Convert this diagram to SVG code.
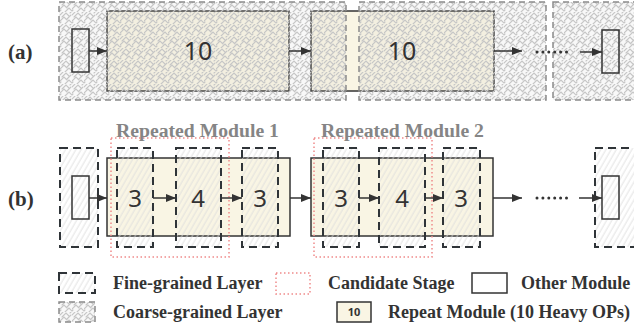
<svg xmlns="http://www.w3.org/2000/svg" width="634" height="329" viewBox="0 0 634 329">
<style>
.mod{fill:#f9f5e4;stroke:#333;stroke-width:1.5}
.sm{fill:none;stroke:#333;stroke-width:1.5}
.coarse{fill:url(#coarse);stroke:#8a8a8a;stroke-width:1.5;stroke-dasharray:6 4}
.fine{fill:url(#fine);stroke:#2f3438;stroke-width:2;stroke-dasharray:8 5}
.cand{fill:none;stroke:#f08a8a;stroke-width:1.5;stroke-dasharray:1.5 2.5}
.num{font-family:"Noto Sans","Open Sans",sans-serif;fill:#333;text-anchor:middle}
.lbl{font-family:"Liberation Serif","Times New Roman",serif;font-weight:bold;fill:#333}
.rep{font-family:"Liberation Serif","Times New Roman",serif;font-weight:bold;fill:#858585;font-size:19.7px}
.arr{stroke:#333;stroke-width:1.5;fill:none;marker-end:url(#ah)}
.dots{stroke:#333;stroke-width:3;stroke-linecap:round;stroke-dasharray:0 5.9}
</style>
<defs>
<marker id="ah" viewBox="0 0 10 8" refX="10" refY="4" markerWidth="10" markerHeight="8" markerUnits="userSpaceOnUse" orient="auto">
<path d="M0,0 L10,4 L0,8 Z" fill="#333"/>
</marker>
<pattern id="coarse" width="12" height="12" patternUnits="userSpaceOnUse">
<rect width="12" height="12" fill="#c4c4c4" fill-opacity="0.12"/>
<path d="M0,3 L3,0 M2,5 L6,1 L9,4 M7,7 L11,3 M0,9 L4,5 L7,8 M5,12 L9,8 L12,11 M10,1 L12,-1 M-1,12 L1,10" stroke="#c6c6c6" stroke-width="1.1" fill="none" stroke-linecap="round"/>
</pattern>
<pattern id="fine" width="4.5" height="4.5" patternUnits="userSpaceOnUse" patternTransform="rotate(30)">
<line x1="1" y1="0" x2="1" y2="4.5" stroke="#dcdcdc" stroke-width="0.8"/>
</pattern>
</defs>

<g id="labels">
<text class="lbl" x="8" y="59" font-size="21">(a)</text>
<text class="lbl" x="8" y="206" font-size="21">(b)</text>
</g>

<!-- Row (a) -->
<g id="a-module1"><rect class="mod" x="107" y="11" width="182" height="80"/></g>
<g id="a-module2"><rect class="mod" x="311" y="11" width="183" height="80"/></g>
<g id="a-coarse1"><rect class="coarse" x="59" y="2" width="287" height="98"/></g>
<g id="a-coarse2"><rect class="coarse" x="359" y="2" width="187" height="98"/></g>
<g id="a-coarse3"><rect class="coarse" x="553" y="2" width="90" height="98"/></g>
<g id="a-in"><rect class="sm" x="72" y="29" width="17" height="43"/></g>
<g id="a-out"><rect class="sm" x="602" y="30" width="17" height="43"/></g>
<text class="num" x="198" y="60" font-size="25">10</text>
<text class="num" x="402" y="60" font-size="25">10</text>

<!-- Row (b) -->
<g id="b-module1"><rect class="mod" x="107" y="158" width="183" height="78"/></g>
<g id="b-module2"><rect class="mod" x="311" y="158" width="182" height="78"/></g>
<g id="b-in"><rect class="fine" x="60" y="148" width="38" height="99"/><rect class="sm" x="72" y="176" width="17" height="43"/></g>
<g id="b-f1"><rect class="fine" x="117" y="148" width="36" height="99"/></g>
<g id="b-f2"><rect class="fine" x="176" y="148" width="45" height="99"/></g>
<g id="b-f3"><rect class="fine" x="242" y="148" width="36" height="99"/></g>
<g id="b-f4"><rect class="fine" x="323" y="148" width="36" height="99"/></g>
<g id="b-f5"><rect class="fine" x="379" y="148" width="46" height="99"/></g>
<g id="b-f6"><rect class="fine" x="443" y="148" width="37" height="99"/></g>
<g id="b-out"><rect class="fine" x="595" y="148" width="50" height="99"/><rect class="sm" x="602" y="176" width="17" height="43"/></g>
<g id="b-cand1"><rect class="cand" x="111" y="138" width="118" height="119"/></g>
<g id="b-cand2"><rect class="cand" x="314" y="138" width="118" height="119"/></g>
<text class="rep" x="116" y="137">Repeated Module 1</text>
<text class="rep" x="321" y="137">Repeated Module 2</text>
<text class="num" x="135" y="207" font-size="24">3</text>
<text class="num" x="198" y="207" font-size="24">4</text>
<text class="num" x="260" y="207" font-size="24">3</text>
<text class="num" x="341" y="207" font-size="24">3</text>
<text class="num" x="402" y="207" font-size="24">4</text>
<text class="num" x="461" y="207" font-size="24">3</text>

<g id="connectors">
<line class="arr" x1="89" y1="51" x2="107" y2="51"/>
<line class="arr" x1="289" y1="51" x2="311" y2="51"/>
<line class="arr" x1="494" y1="51" x2="522" y2="51"/>
<line class="dots" x1="537" y1="52" x2="567" y2="52"/>
<line class="arr" x1="580" y1="52" x2="602" y2="52"/>
<line class="arr" x1="89" y1="198" x2="107" y2="198"/>
<line class="arr" x1="153" y1="198" x2="176" y2="198"/>
<line class="arr" x1="221" y1="198" x2="242" y2="198"/>
<line class="arr" x1="290" y1="198" x2="311" y2="198"/>
<line class="arr" x1="359" y1="198" x2="379" y2="198"/>
<line class="arr" x1="425" y1="198" x2="443" y2="198"/>
<line class="arr" x1="493" y1="198" x2="522" y2="198"/>
<line class="dots" x1="537" y1="198" x2="567" y2="198"/>
<line class="arr" x1="579" y1="198" x2="602" y2="198"/>
</g>

<!-- Legend -->
<g id="legend">
<rect class="fine" x="59" y="273" width="36" height="20"/>
<text class="lbl" x="113" y="289" font-size="18">Fine-grained Layer</text>
<rect class="coarse" x="59" y="302" width="36" height="20"/>
<text class="lbl" x="113" y="318" font-size="18">Coarse-grained Layer</text>
<rect class="cand" x="276" y="273" width="34" height="21"/>
<text class="lbl" x="328" y="289" font-size="18">Candidate Stage</text>
<rect class="sm" x="472" y="273" width="35" height="20"/>
<text class="lbl" x="521" y="289" font-size="18">Other Module</text>
<rect class="mod" x="337" y="302" width="34" height="20"/>
<text class="num" x="354" y="316" font-size="11" font-weight="bold">10</text>
<text class="lbl" x="388" y="318" font-size="18">Repeat Module (10 Heavy OPs)</text>
</g>
</svg>
